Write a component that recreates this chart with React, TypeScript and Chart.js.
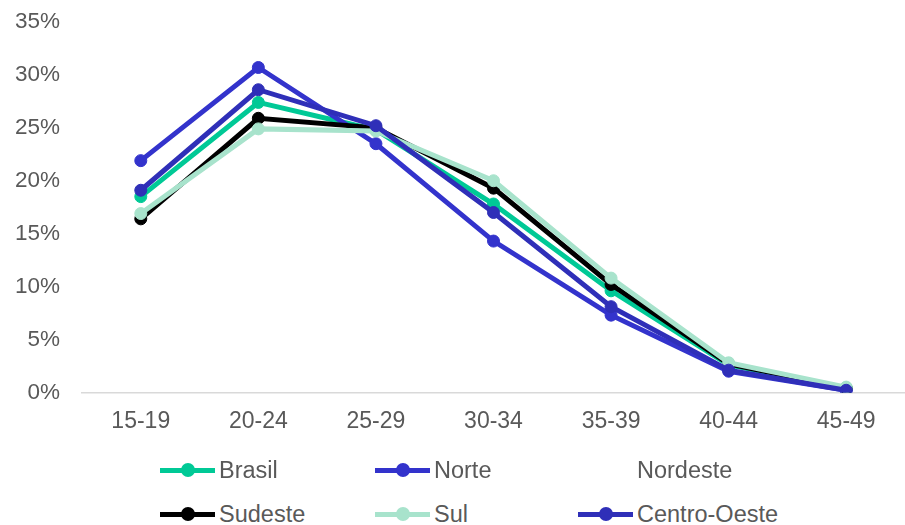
import React, { useEffect, useRef } from "react";
import { Chart, registerables } from "chart.js";

Chart.register(...registerables);

const categories = ["15-19", "20-24", "25-29", "30-34", "35-39", "40-44", "45-49"];
const yTicks = [0, 5, 10, 15, 20, 25, 30, 35];

const brasil = [18.5, 27.4, 24.8, 17.8, 9.6, 2.6, 0.4];
const norte = [21.9, 30.7, 23.5, 14.3, 7.3, 2.0, 0.2];
const nordeste = [20.0, 29.5, 24.1, 15.5, 8.0, 2.3, 0.3];
const sudeste = [16.4, 25.9, 25.0, 19.3, 10.2, 2.7, 0.4];
const sul = [16.9, 24.9, 24.7, 20.0, 10.8, 2.8, 0.5];
const centroOeste = [19.1, 28.6, 25.2, 17.0, 8.1, 2.1, 0.2];

const seriesNames = ["Brasil", "Norte", "Nordeste", "Sudeste", "Sul", "Centro-Oeste"];
const seriesData = [brasil, norte, nordeste, sudeste, sul, centroOeste];
const seriesColors = ["#00C996", "#3333CC", "#FFFFFF", "#000000", "#A8E3CC", "#2F2FB8"];

const FONT = "'Liberation Sans', Arial, sans-serif";
const TEXT = "#595959";

export default function App() {
  const ref = useRef<HTMLCanvasElement | null>(null);

  useEffect(() => {
    if (!ref.current) return;
    const chart = new Chart(ref.current, {
      type: "line",
      data: {
        labels: categories,
        datasets: seriesNames.map((name, i) => ({
          label: name,
          data: seriesData[i],
          borderColor: seriesColors[i],
          backgroundColor: seriesColors[i],
          pointBackgroundColor: seriesColors[i],
          pointBorderColor: seriesColors[i],
          borderWidth: 5,
          pointRadius: 6,
          pointBorderWidth: 1,
          tension: 0,
          fill: false,
          order: name === "Nordeste" ? 100 : -i,
        })),
      },
      options: {
        animation: false,
        responsive: false,
        maintainAspectRatio: false,
        layout: { padding: { top: 0, left: 0, right: 0, bottom: 10 } },
        plugins: {
          legend: { display: false },
          tooltip: { enabled: false },
        },
        scales: {
          x: {
            offset: true,
            afterFit: (axis: any) => {
              axis.paddingLeft = 0;
              axis.paddingRight = 0;
            },
            grid: { display: false, drawTicks: false },
            border: { display: true, color: "#D9D9D9", width: 1.5 },
            ticks: { color: TEXT, font: { family: FONT, size: 23 }, padding: 15 },
          },
          y: {
            min: 0,
            max: 35,
            afterBuildTicks: (axis: any) => {
              axis.ticks = yTicks.map((v) => ({ value: v }));
            },
            afterFit: (axis: any) => {
              axis.width = 82;
              axis.paddingTop = 22;
              axis.paddingBottom = 0;
            },
            grid: { display: false, drawTicks: false },
            border: { display: false },
            ticks: {
              color: TEXT,
              font: { family: FONT, size: 22.5 },
              padding: 22,
              callback: (v: any) => `${v}%`,
            },
          },
        },
      },
    });
    return () => chart.destroy();
  }, []);

  const cols = [160, 375, 578];
  const rows = [470, 514];

  return (
    <div style={{ position: "absolute", left: 0, top: 0, width: 905, height: 525, background: "#fff", overflow: "hidden" }}>
      <canvas ref={ref} width={912} height={460} style={{ position: "absolute", left: 0, top: 0 }} />
      {seriesNames.map((name, i) => {
        const col = i % 3;
        const row = Math.floor(i / 3);
        const x = cols[col];
        const y = rows[row];
        const c = seriesColors[i];
        return (
          <div key={name}>
            <div style={{ position: "absolute", left: x, top: y - 2.5, width: 55, height: 5, background: c }} />
            <div style={{ position: "absolute", left: x + 27.5 - 7, top: y - 7, width: 14, height: 14, borderRadius: "50%", background: c }} />
            <div
              style={{
                position: "absolute",
                left: x + 59,
                top: y - 14,
                height: 28,
                lineHeight: "28px",
                fontFamily: FONT,
                fontSize: 23.5,
                color: TEXT,
                whiteSpace: "nowrap",
              }}
            >
              {name}
            </div>
          </div>
        );
      })}
    </div>
  );
}
